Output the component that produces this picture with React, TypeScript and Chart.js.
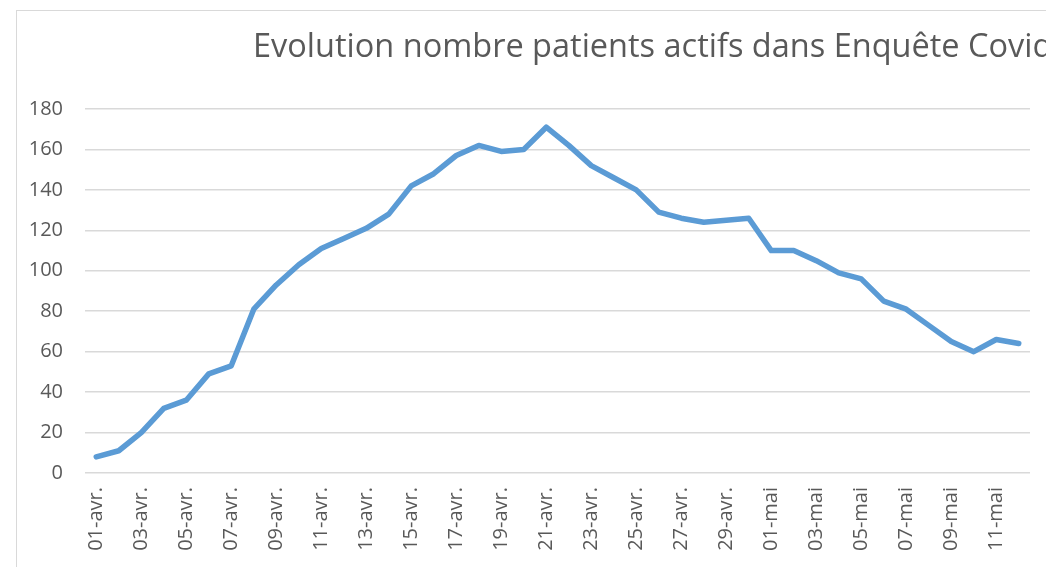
import React, { useEffect, useRef } from "react";
import { Chart, registerables } from "chart.js";

Chart.register(...registerables);

const categories: string[] = [
  "01-avr.", "02-avr.", "03-avr.", "04-avr.", "05-avr.", "06-avr.", "07-avr.", "08-avr.", "09-avr.", "10-avr.",
  "11-avr.", "12-avr.", "13-avr.", "14-avr.", "15-avr.", "16-avr.", "17-avr.", "18-avr.", "19-avr.", "20-avr.",
  "21-avr.", "22-avr.", "23-avr.", "24-avr.", "25-avr.", "26-avr.", "27-avr.", "28-avr.", "29-avr.", "30-avr.",
  "01-mai", "02-mai", "03-mai", "04-mai", "05-mai", "06-mai", "07-mai", "08-mai", "09-mai", "10-mai",
  "11-mai", "12-mai",
];

const activePatients: number[] = [
  8, 11, 20, 32, 36, 49, 53, 81, 93, 103,
  111, 116, 121, 128, 142, 148, 157, 162, 159, 160,
  171, 162, 152, 146, 140, 129, 126, 124, 125, 126,
  110, 110, 105, 99, 96, 85, 81, 73, 65, 60,
  66, 64,
];

const yTicks: number[] = [0, 20, 40, 60, 80, 100, 120, 140, 160, 180];

const titleText = "Evolution nombre patients actifs dans Enquête Covid";

export default function App() {
  const canvasRef = useRef<HTMLCanvasElement | null>(null);

  useEffect(() => {
    if (!canvasRef.current) return;
    const titlePlugin = {
      id: "fixedTitle",
      afterDraw(chart: any) {
        const ctx = chart.ctx;
        ctx.save();
        ctx.font = "32.5px 'Open Sans'";
        ctx.fillStyle = "#595959";
        ctx.textAlign = "left";
        ctx.textBaseline = "alphabetic";
        ctx.fillText(titleText, 253, 57);
        ctx.restore();
      },
    };
    const chart = new Chart(canvasRef.current, {
      type: "line",
      data: {
        labels: categories,
        datasets: [
          {
            data: activePatients,
            borderColor: "#5b9bd5",
            borderWidth: 5.5,
            borderCapStyle: "round",
            borderJoinStyle: "round",
            pointRadius: 0,
            tension: 0,
            fill: false,
          },
        ],
      },
      options: {
        animation: false,
        responsive: false,
        maintainAspectRatio: false,
        layout: { padding: { left: 20, right: 16, top: 109, bottom: 0 } },
        plugins: {
          legend: { display: false },
          title: { display: false },
          tooltip: { enabled: false },
        },
        scales: {
          x: {
            offset: true,
            grid: { display: false, drawTicks: false },
            border: { display: false },
            afterFit(scale: any) {
              scale.height = 94;
              scale.paddingLeft = 0;
              scale.paddingRight = 0;
            },
            ticks: {
              autoSkip: false,
              maxRotation: 90,
              minRotation: 90,
              padding: 14,
              color: "#595959",
              font: { family: "'Open Sans'", size: 20 },
              callback: (_v: any, i: number) => (i % 2 === 0 ? categories[i] : ""),
            },
          },
          y: {
            min: 0,
            max: 180,
            afterBuildTicks(scale: any) {
              scale.ticks = yTicks.map((v) => ({ value: v }));
            },
            afterFit(scale: any) {
              scale.width = 65;
              scale.paddingTop = 0;
              scale.paddingBottom = 0;
            },
            grid: { color: "#d9d9d9", lineWidth: 1.5, drawTicks: false },
            border: { display: false },
            ticks: {
              padding: 22,
              color: "#595959",
              font: { family: "'Open Sans'", size: 20 },
            },
          },
        },
      },
      plugins: [titlePlugin],
    });
    return () => chart.destroy();
  }, []);

  return (
    <div style={{ position: "absolute", left: 0, top: 0, width: 1046, height: 567, overflow: "hidden", background: "#fff" }}>
      <div
        style={{
          position: "absolute",
          left: 16,
          top: 10,
          width: 1100,
          height: 600,
          borderLeft: "1px solid #d9d9d9",
          borderTop: "1px solid #d9d9d9",
        }}
      />
      <canvas ref={canvasRef} width={1046} height={567} style={{ position: "absolute", left: 0, top: 0, width: 1046, height: 567 }} />
    </div>
  );
}
